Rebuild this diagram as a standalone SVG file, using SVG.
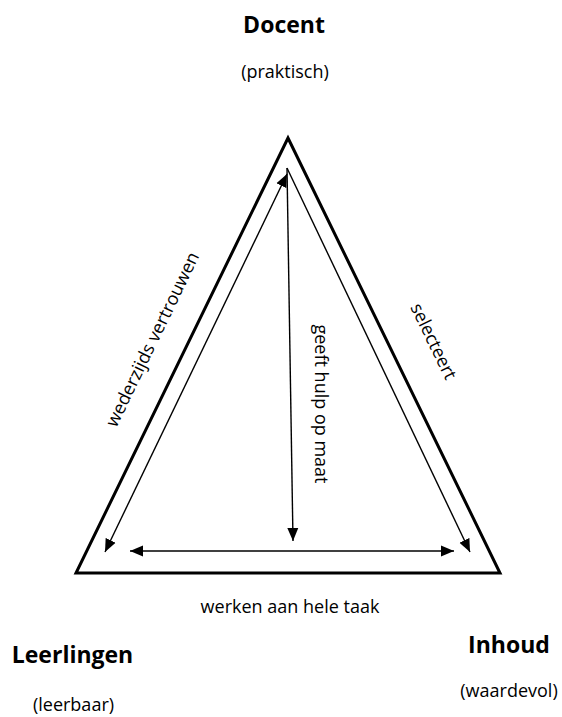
<svg xmlns="http://www.w3.org/2000/svg" width="562" height="717" viewBox="0 0 562 717">
<style>
.t{font-family:"Open Sans","Liberation Sans",sans-serif;fill:#000;text-anchor:middle}
.b{font-weight:bold;font-size:23px}
.r{font-size:18px}
.c{stroke:#000;stroke-width:1.4;fill:none}
</style>
<defs>
<marker id="ah" markerUnits="userSpaceOnUse" markerWidth="14" markerHeight="12" refX="13" refY="5.5" orient="auto-start-reverse" viewBox="0 0 14 11">
<path d="M0,0 L13,5.5 L0,11 z" fill="#000"/>
</marker>
</defs>
<rect width="562" height="717" fill="#fff"/>
<g id="triangle">
<polygon points="288,138 76,573 500,573" fill="none" stroke="#000" stroke-width="3"/>
</g>
<g id="connectors">
<line class="c" x1="287" y1="174" x2="105" y2="552" marker-start="url(#ah)" marker-end="url(#ah)"/>
<line class="c" x1="287" y1="168" x2="470" y2="552" marker-end="url(#ah)"/>
<line class="c" x1="287" y1="168" x2="293" y2="541" marker-end="url(#ah)"/>
<line class="c" x1="130" y1="551" x2="454" y2="551" marker-start="url(#ah)" marker-end="url(#ah)"/>
</g>
<g id="docent">
<text class="t b" x="284" y="33">Docent</text>
<text class="t r" x="285" y="78">(praktisch)</text>
</g>
<g id="leerlingen">
<text class="t b" x="72.5" y="663">Leerlingen</text>
<text class="t r" x="73.5" y="711">(leerbaar)</text>
</g>
<g id="inhoud">
<text class="t b" x="509" y="653">Inhoud</text>
<text class="t r" x="509" y="697">(waardevol)</text>
</g>
<g id="labels">
<text class="t r" x="290" y="613">werken aan hele taak</text>
<text class="t r" transform="translate(158,342) rotate(-64.2)">wederzijds vertrouwen</text>
<text class="t r" transform="translate(428,344) rotate(64.2)">selecteert</text>
<text class="t r" transform="translate(315,404) rotate(90)">geeft hulp op maat</text>
</g>
</svg>
